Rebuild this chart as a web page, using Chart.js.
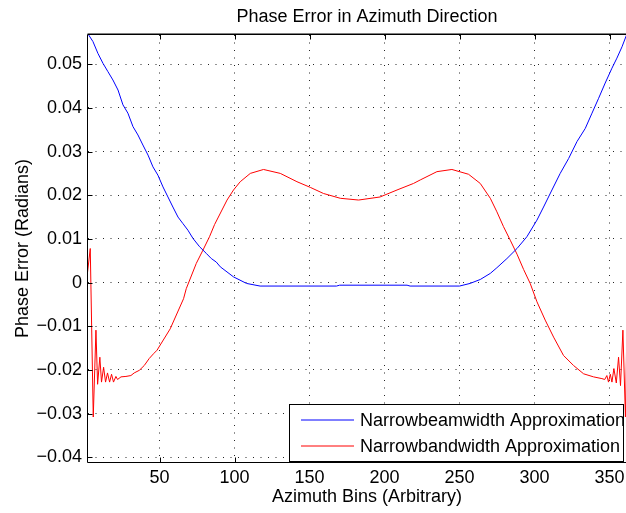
<!DOCTYPE html>
<html>
<head>
<meta charset="utf-8">
<script src="https://cdn.jsdelivr.net/npm/chart.js@4/dist/chart.umd.min.js"></script>
<style>
  html, body { margin: 0; padding: 0; background: #fff; overflow: hidden; }
  #phaseChart { display: block; }
</style>
</head>
<body>
<canvas id="phaseChart" width="660" height="513" style="width:660px;height:513px"></canvas>
<script>
// Values
const blueX = [2, 5.6, 8.9, 12.3, 15.6, 18.9, 22.3, 25.6, 28.9, 32.3, 35.6, 38.9, 42.3, 45.6, 48.9,
  52.3, 55.6, 58.9, 62.3, 65.6, 68.9, 72.3, 76.7, 81.1, 84.5, 87.8, 90.5, 99.3, 108, 117,
  168, 170, 215, 217, 250, 257, 263.8, 270.5, 274.9, 281.6, 288.3, 294.9, 301.6, 306,
  311.6, 317.1, 322.7, 328.3, 333.8, 338.3, 342.7, 347.1, 351.6, 354.9, 358.3, 361.1, 362];
const blueY = [0.0571, 0.0552, 0.0525, 0.0502, 0.0483, 0.0464, 0.0441, 0.0407, 0.0388, 0.0357, 0.0338, 0.0315, 0.0292, 0.0265, 0.0246,
  0.0219, 0.0196, 0.0173, 0.0150, 0.0135, 0.0120, 0.0101, 0.0082, 0.0067, 0.0055, 0.0047, 0.0036, 0.0013, -0.0002, -0.0008,
  -0.0008, -0.0006, -0.0006, -0.0008, -0.0008, -0.0002, 0.0007, 0.0021, 0.0034, 0.0055, 0.0078, 0.0105, 0.0143, 0.0173,
  0.0212, 0.0250, 0.0284, 0.0323, 0.0353, 0.0388, 0.0422, 0.0457, 0.0491, 0.0514, 0.0540, 0.0565, 0.0572];

const redX = [2, 3.8, 5.8, 7.6, 8.7, 10.2, 11.3, 12.7, 14, 15.3, 16.7, 18, 19.3, 20.9, 22,
  24.3, 27.6, 30.9, 33.1, 36.5, 39.8, 43.1, 46, 48.3, 57.1, 66, 67.8, 74.5, 78.9, 83.3, 86.7,
  95, 99.3, 103.8, 110.5, 119.3, 130.5, 141.6, 150.5, 159.3, 170.5, 182.7, 197, 208.3, 219.3,
  223.8, 234.9, 244.9, 256, 263.8, 270.5, 274.9, 279.3, 283.8, 288.3, 292.7, 297.1, 301.6,
  307.1, 312.7, 319.3, 326, 332.7, 339.3, 344.9, 346.8, 348.2, 349.3, 350.5, 351.6, 352.9,
  354.5, 356, 357.3, 358.9, 360.6, 362.4, 363.5];
const redY = [0.0024, 0.0078, -0.0308, -0.0109, -0.0233, -0.0171, -0.0228, -0.0194, -0.0228, -0.0207, -0.0228, -0.0210, -0.0228, -0.0215, -0.0222,
  -0.0216, -0.0215, -0.0213, -0.0207, -0.0201, -0.0190, -0.0174, -0.0163, -0.0155, -0.0106, -0.0037, -0.0014, 0.0044, 0.0074, 0.0105, 0.0133,
  0.0189, 0.0212, 0.0231, 0.0250, 0.0259, 0.0250, 0.0231, 0.0218, 0.0204, 0.0193, 0.0189, 0.0196, 0.0212, 0.0227,
  0.0235, 0.0254, 0.0259, 0.0248, 0.0227, 0.0193, 0.0162, 0.0128, 0.0097, 0.0065, 0.0030, -0.0002, -0.0044,
  -0.0086, -0.0125, -0.0167, -0.0190, -0.0209, -0.0216, -0.0220, -0.0222, -0.0213, -0.0228, -0.0210, -0.0228, -0.0197,
  -0.0230, -0.0171, -0.0236, -0.0109, -0.0308, 0.0078, 0.0024];

const seriesLabels = ['Narrowbeamwidth Approximation', 'Narrowbandwidth Approximation'];

const xTickValues = [50, 100, 150, 200, 250, 300, 350];
const yTickValues = [-0.04, -0.03, -0.02, -0.01, 0, 0.01, 0.02, 0.03, 0.04, 0.05];
const yTickLabels = ['\u22120.04', '\u22120.03', '\u22120.02', '\u22120.01', '0', '0.01', '0.02', '0.03', '0.04', '0.05'];

const xRange = [2.3, 374.3];
const yRange = [-0.0411, 0.0567];

const FONT = "'Liberation Sans', Arial, Helvetica, sans-serif";

function toPoints(xs, ys) {
  return xs.map((x, i) => ({ x: x, y: ys[i] }));
}

// box round the axes with inward tick marks, like matlab
const matlabBox = {
  id: 'matlabBox',
  afterDatasetsDraw(chart) {
    const { ctx, chartArea: a, scales } = chart;
    const L = a.left - 0.5, R = a.right + 0.5, T = a.top - 0.5, B = a.bottom + 0.5;
    ctx.save();
    ctx.strokeStyle = '#000';
    ctx.lineWidth = 1;
    ctx.beginPath();
    ctx.moveTo(L, T); ctx.lineTo(R, T); ctx.lineTo(R, B); ctx.lineTo(L, B); ctx.closePath();
    ctx.stroke();
    // top edge looks a bit heavier in the original
    ctx.beginPath();
    ctx.moveTo(L, T - 1); ctx.lineTo(R, T - 1);
    ctx.strokeStyle = 'rgba(0,0,0,0.5)';
    ctx.stroke();
    ctx.strokeStyle = '#000';
    const len = 5;
    ctx.beginPath();
    xTickValues.forEach(v => {
      const px = Math.round(scales.x.getPixelForValue(v)) + 0.5;
      ctx.moveTo(px, B); ctx.lineTo(px, B - len);
      ctx.moveTo(px, T); ctx.lineTo(px, T + len);
    });
    yTickValues.forEach(v => {
      const py = Math.round(scales.y.getPixelForValue(v)) + 0.5;
      ctx.moveTo(L, py); ctx.lineTo(L + len, py);
      ctx.moveTo(R, py); ctx.lineTo(R - len, py);
    });
    ctx.stroke();
    ctx.restore();
  }
};

// legend box in the lower right corner
const boxLegend = {
  id: 'boxLegend',
  afterDraw(chart, args, opts) {
    const { ctx, chartArea } = chart;
    const bottom = chartArea.bottom - 1;
    const top = bottom - opts.height;
    const left = opts.left, right = opts.right;
    ctx.save();
    ctx.beginPath();
    ctx.rect(left, top, right - left, bottom - top);
    ctx.fillStyle = '#fff';
    ctx.fill();
    ctx.clip();
    chart.data.datasets.forEach((ds, i) => {
      const y = top + opts.firstRow + i * opts.rowGap;
      ctx.strokeStyle = ds.borderColor;
      ctx.lineWidth = 1;
      ctx.beginPath();
      ctx.moveTo(left + 12, y);
      ctx.lineTo(left + 65, y);
      ctx.stroke();
      ctx.fillStyle = '#000';
      ctx.font = '18px ' + FONT;
      ctx.textBaseline = 'middle';
      ctx.textAlign = 'left';
      ctx.fillText(ds.label, left + 71, y + 1);
    });
    ctx.restore();
    ctx.save();
    ctx.strokeStyle = '#000';
    ctx.lineWidth = 1;
    ctx.strokeRect(left + 0.5, top + 0.5, right - left, bottom - top);
    ctx.restore();
  }
};

const ctx = document.getElementById('phaseChart').getContext('2d');

new Chart(ctx, {
  type: 'line',
  data: {
    datasets: [{
      label: seriesLabels[0],
      data: toPoints(blueX, blueY),
      borderColor: '#0000ff',
      borderWidth: 1,
      pointRadius: 0,
      tension: 0,
      fill: false
    }, {
      label: seriesLabels[1],
      data: toPoints(redX, redY),
      borderColor: '#ff0000',
      borderWidth: 1,
      pointRadius: 0,
      tension: 0,
      fill: false
    }]
  },
  options: {
    responsive: false,
    animation: false,
    layout: { padding: { left: 0, right: 14, top: 0, bottom: 0 } },
    plugins: {
      legend: { display: false },
      tooltip: { enabled: false },
      title: {
        display: true,
        fullSize: false, // centre over the axes, not the canvas
        text: 'Phase Error in Azimuth Direction',
        color: '#000',
        font: { family: FONT, size: 18, weight: 'normal' },
        padding: { top: 6, bottom: 7.4 }
      },
      boxLegend: { left: 289, right: 623, height: 57, firstRow: 16, rowGap: 26 }
    },
    scales: {
      x: {
        type: 'linear',
        min: xRange[0],
        max: xRange[1],
        afterBuildTicks: (scale) => { scale.ticks = xTickValues.map(v => ({ value: v })); },
        afterFit: (scale) => { scale.height = 51; },
        ticks: {
          autoSkip: false,
          maxRotation: 0,
          padding: 5,
          color: '#000',
          font: { family: FONT, size: 18 },
          callback: (v) => String(v)
        },
        grid: { color: 'rgba(0,0,0,0.85)', lineWidth: 1, drawTicks: false },
        border: { display: false, dash: [1, 6.5] },
        title: {
          display: true,
          text: 'Azimuth Bins (Arbitrary)',
          color: '#000',
          font: { family: FONT, size: 18 },
          padding: { top: 0, bottom: 5 }
        }
      },
      y: {
        type: 'linear',
        min: yRange[0],
        max: yRange[1],
        afterBuildTicks: (scale) => { scale.ticks = yTickValues.map(v => ({ value: v })); },
        afterFit: (scale) => { scale.width = 88; },
        ticks: {
          padding: 6,
          color: '#000',
          font: { family: FONT, size: 18 },
          callback: (v, i) => yTickLabels[i]
        },
        grid: { color: 'rgba(0,0,0,0.85)', lineWidth: 1, drawTicks: false },
        border: { display: false, dash: [1, 6.5] },
        title: {
          display: true,
          text: 'Phase Error (Radians)',
          color: '#000',
          font: { family: FONT, size: 18 },
          padding: { top: 12, bottom: 0 }
        }
      }
    }
  },
  plugins: [matlabBox, boxLegend]
});
</script>
</body>
</html>
